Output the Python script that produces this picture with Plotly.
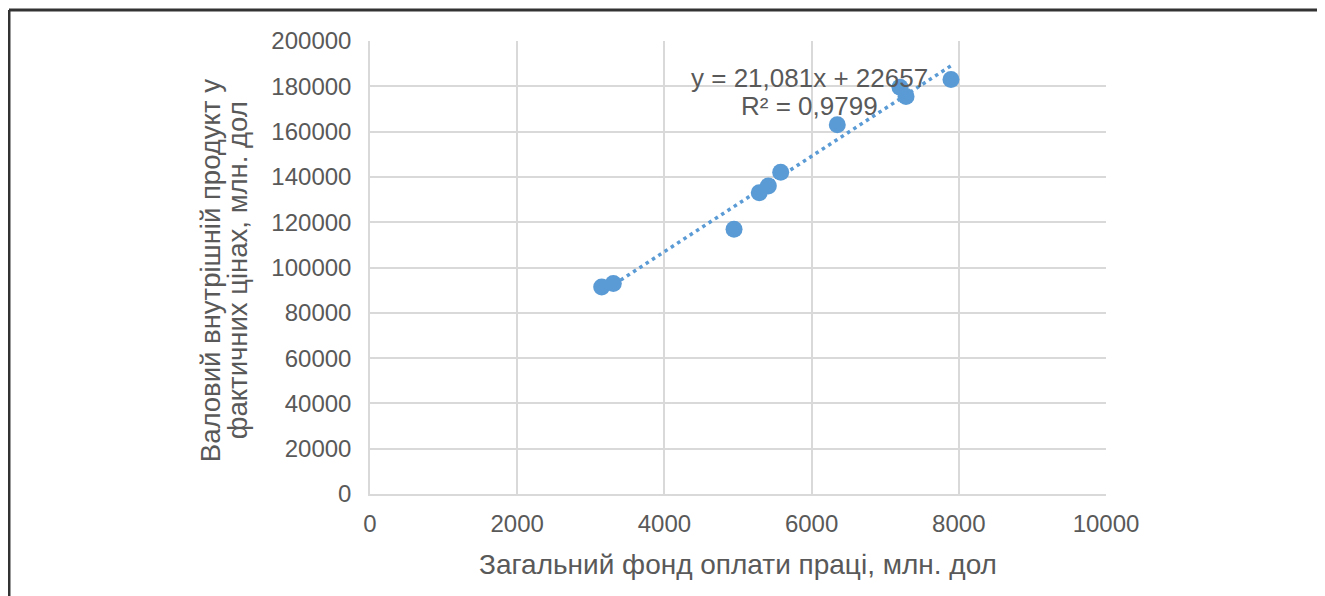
import plotly.graph_objects as go

# wage fund (mln $) vs GDP in current prices (mln $)
wage_fund = [3148, 3306, 4946, 5289, 5412, 5580, 6349, 7201, 7283, 7894]
gdp = [91400, 92900, 116900, 133000, 136000, 142100, 163000, 179600, 175500, 183000]

# linear trendline as reported on the chart
slope = 21.081
intercept = 22657
r2_text = "R² = 0,9799"
eq_text = "y = 21,081x + 22657"

x_ticks = [0, 2000, 4000, 6000, 8000, 10000]
y_ticks = [0, 20000, 40000, 60000, 80000, 100000, 120000, 140000, 160000, 180000, 200000]

x_title = "Загальний фонд оплати праці, млн. дол"
y_title_lines = ["Валовий внутрішній продукт у", "фактичних цінах, млн. дол"]

blue = "#5b9bd5"
grey_text = "#595959"
grid = "#d9d9d9"
font_family = "Liberation Sans, Arial, sans-serif"

trend_x = [min(wage_fund), max(wage_fund)]
trend_y = [slope * v + intercept for v in trend_x]

fig = go.Figure()

fig.add_trace(go.Scatter(
    x=trend_x, y=trend_y,
    mode="lines",
    line=dict(color=blue, width=3.5, dash="3.5px,4px"),
    hoverinfo="skip",
))

fig.add_trace(go.Scatter(
    x=wage_fund, y=gdp,
    mode="markers",
    marker=dict(size=17, color=blue),
))

# trendline equation labels
fig.add_annotation(x=5978, y=183460, xref="x", yref="y", text=eq_text,
                   showarrow=False, font=dict(size=26, color=grey_text, family=font_family))
fig.add_annotation(x=5978, y=171110, xref="x", yref="y", text=r2_text,
                   showarrow=False, font=dict(size=26, color=grey_text, family=font_family))

# axis titles
fig.add_annotation(x=0.5, y=-0.1566, xref="paper", yref="paper", text=x_title,
                   xanchor="center", yanchor="middle",
                   showarrow=False, font=dict(size=28, color=grey_text, family=font_family))
for xp, line in zip([-0.2174, -0.1807], y_title_lines):
    fig.add_annotation(x=xp, y=0.494, xref="paper", yref="paper", text=line,
                       xanchor="center", yanchor="middle",
                       textangle=-90, showarrow=False,
                       font=dict(size=27.5, color=grey_text, family=font_family))

# outer frame (left and top edges visible)
fig.add_shape(type="line", xref="paper", yref="paper",
              x0=-0.4905, x1=-0.4905, y0=1.0684, y1=-0.5,
              line=dict(color="#333333", width=3))
fig.add_shape(type="line", xref="paper", yref="paper",
              x0=-0.4905, x1=1.5, y0=1.0684, y1=1.0684,
              line=dict(color="#333333", width=3))

fig.update_layout(
    width=1325, height=596,
    margin=dict(l=362, r=227, t=33, b=109.5),
    paper_bgcolor="white",
    plot_bgcolor="white",
    showlegend=False,
    font=dict(family=font_family, color=grey_text, size=24),
    xaxis=dict(
        range=[0, 10000],
        tickvals=x_ticks,
        ticktext=[str(v) for v in x_ticks],
        showgrid=True, gridcolor=grid, gridwidth=1.5,
        showline=True, linecolor=grid, linewidth=1.5,
        zeroline=False, ticks="",
        ticklabelstandoff=7,
        tickfont=dict(size=24, color=grey_text),
    ),
    yaxis=dict(
        range=[0, 200000],
        tickvals=y_ticks,
        ticktext=[str(v) for v in y_ticks],
        showgrid=True, gridcolor=grid, gridwidth=1.5,
        showline=True, linecolor=grid, linewidth=1.5,
        zeroline=False, ticks="",
        ticklabelstandoff=12,
        tickfont=dict(size=24, color=grey_text),
    ),
)

fig.write_html("out.html")
